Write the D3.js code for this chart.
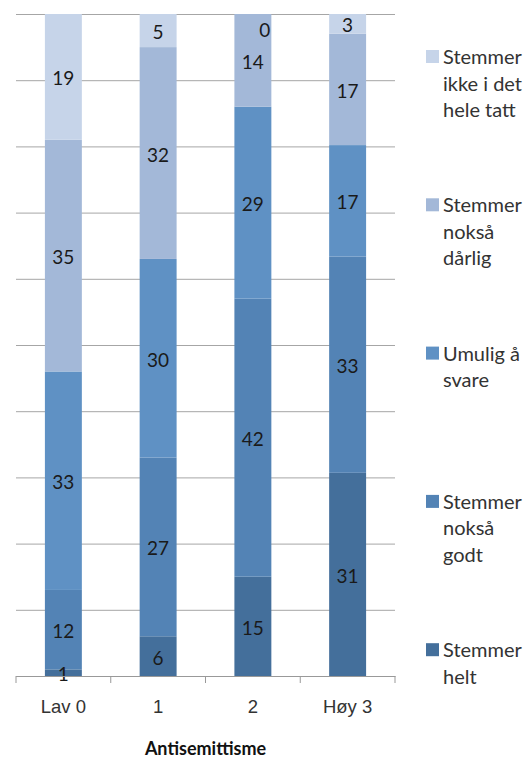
<!DOCTYPE html>
<html>
<head>
<meta charset="utf-8">
<script src="https://cdn.jsdelivr.net/npm/d3@7"></script>
<style>
  body { margin: 0; background: #fff; }
  svg { font-family: Lato, "Open Sans", sans-serif; }
  .grid line { stroke: #a6a6a6; }
  .grid path { display: none; }
  .label { font-size: 19px; fill: #1a1a1a; }
  .xlab { font-size: 18.5px; fill: #333; }
  .legend text { font-size: 20px; fill: #333; }
</style>
</head>
<body>
<svg width="532" height="762"></svg>
<script>
let categories = ["Lav 0", "1", "2", "Høy 3"]
let seriesNames = [
  "Stemmer helt",
  "Stemmer nokså godt",
  "Umulig å svare",
  "Stemmer nokså dårlig",
  "Stemmer ikke i det hele tatt"
]
let stemmerHelt = [1, 6, 15, 31]
let stemmerGodt = [12, 27, 42, 33]
let umulig = [33, 30, 29, 17]
let stemmerDarlig = [35, 32, 14, 17]
let stemmerIkke = [19, 5, 0, 3]

// legend lines (bottom series last in legend)
let legendLines = [
  ["Stemmer", "helt"],
  ["Stemmer", "nokså", "godt"],
  ["Umulig å", "svare"],
  ["Stemmer", "nokså", "dårlig"],
  ["Stemmer", "ikke i det", "hele tatt"]
]

let colors = ["#446f9b", "#5383b5", "#5f91c4", "#a3b8d8", "#c6d4e9"]

let values = [stemmerHelt, stemmerGodt, umulig, stemmerDarlig, stemmerIkke]

let data = categories.map((c, i) => {
  let row = { cat: c }
  seriesNames.forEach((s, j) => row[s] = values[j][i])
  return row
})

// 100% stacked
let stack = d3.stack()
  .keys(seriesNames)
  .offset(d3.stackOffsetExpand)
let stacked = stack(data)

let svg = d3.select('svg')
let plotLeft = 16, plotRight = 395, plotTop = 14, plotBottom = 676

let x = d3.scaleBand()
  .domain(categories)
  .range([plotLeft, plotRight])
let barW = x.bandwidth() * 0.39

let y = d3.scaleLinear()
  .domain([0, 1])
  .range([plotBottom, plotTop])

// gridlines
svg.append('g')
  .attr('class', 'grid')
  .attr('transform', `translate(${plotLeft},0)`)
  .call(d3.axisLeft(y).ticks(10).tickSize(-(plotRight - plotLeft)).tickFormat(''))
  .call(g => g.selectAll('.tick line').attr('stroke', '#a6a6a6'))

// bars
let layer = svg.selectAll('g.layer')
  .data(stacked)
  .enter()
  .append('g')
  .attr('class', 'layer')
  .attr('fill', (d, i) => colors[i])

layer.selectAll('rect')
  .data(d => d)
  .enter()
  .append('rect')
  .attr('x', d => x(d.data.cat) + (x.bandwidth() - barW) / 2)
  .attr('y', d => y(d[1]))
  .attr('width', barW)
  .attr('height', d => y(d[0]) - y(d[1]))

// data labels
stacked.forEach((s, j) => {
  svg.append('g')
    .selectAll('text')
    .data(s)
    .enter()
    .append('text')
    .attr('class', 'label')
    .attr('text-anchor', d => d.data[s.key] === 0 ? 'end' : 'middle')
    .attr('x', d => d.data[s.key] === 0
      ? x(d.data.cat) + (x.bandwidth() + barW) / 2 - 1
      : x(d.data.cat) + x.bandwidth() / 2)
    .attr('y', d => (y(d[0]) + y(d[1])) / 2)
    .attr('dy', d => d.data[s.key] === 0 ? '1.2em' : '0.45em')
    .text(d => d.data[s.key])
})

// x axis
let xAxis = svg.append('g')
  .attr('transform', `translate(0,${plotBottom})`)
  .call(d3.axisBottom(x).tickSize(0).tickPadding(24))
xAxis.select('.domain').attr('stroke', '#999')
xAxis.selectAll('text').attr('class', 'xlab').attr('font-family', null).attr('font-size', null)

// tick marks between categories
let edges = categories.map(c => x(c)).concat([plotRight])
xAxis.selectAll('line.edge')
  .data(edges)
  .enter()
  .append('line')
  .attr('class', 'edge')
  .attr('x1', d => d).attr('x2', d => d)
  .attr('y1', 0).attr('y2', 7)
  .attr('stroke', '#999')

// axis title
svg.append('text')
  .attr('x', (plotLeft + plotRight) / 2)
  .attr('y', 755)
  .attr('text-anchor', 'middle')
  .attr('font-weight', 'bold')
  .attr('font-size', 18)
  .attr('fill', '#111')
  .text('Antisemittisme')

// legend (top item = last series)
let legend = svg.append('g').attr('class', 'legend')
let legendOrder = d3.range(seriesNames.length).reverse()
legendOrder.forEach((j, k) => {
  let g = legend.append('g')
    .attr('transform', `translate(426,${57 + k * 148.3})`)
  g.append('rect')
    .attr('x', 0).attr('y', -7)
    .attr('width', 13).attr('height', 13)
    .attr('fill', colors[j])
  g.selectAll('text')
    .data(legendLines[j])
    .enter()
    .append('text')
    .attr('x', 17)
    .attr('y', (d, i) => i * 26.5)
    .attr('dy', '0.35em')
    .text(d => d)
})
</script>
</body>
</html>
